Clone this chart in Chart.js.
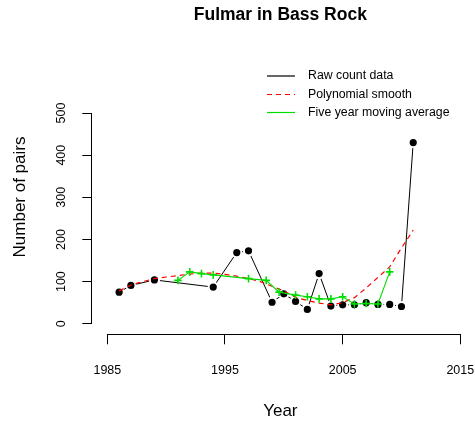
<!DOCTYPE html>
<html>
<head>
<meta charset="utf-8">
<script src="https://cdn.jsdelivr.net/npm/chart.js@4/dist/chart.umd.min.js"></script>
<style>
  body { margin: 0; background: #fff; }
</style>
</head>
<body>
<canvas id="chart" width="475" height="425"></canvas>
<script>
// raw counts (black points)
const rawYears = [1986, 1987, 1989, 1994, 1996, 1997, 1999, 2000, 2001, 2002, 2003, 2004, 2005, 2006, 2007, 2008, 2009, 2010, 2011];
const rawCounts = [75, 91, 104, 87, 169, 173, 51, 71, 53, 34, 119, 42, 45, 45, 50, 46, 46, 41, 430];

// polynomial smooth (red dashed)
const polyYears = [1986, 1987, 1988, 1989, 1990, 1991, 1992, 1993, 1994, 1995, 1996, 1997, 1998, 1999, 2000, 2001, 2002, 2003, 2004, 2005, 2006, 2007, 2008, 2009, 2010, 2011];
const polyValues = [78, 92, 100, 107, 111, 114, 118, 120, 120, 117, 113, 107, 100, 89, 78, 63, 55, 49, 45, 50, 62, 85, 110, 135, 180, 222];

// five year moving average (green)
const maYears = [1991, 1992, 1993, 1994, 1997, 1998.5, 1999.6, 2001, 2002, 2003, 2004, 2005, 2006, 2007, 2008, 2009];
const maValues = [103, 123, 119, 116, 107, 103, 75, 68, 64, 59, 59, 64, 47, 48, 47, 123];

const xTicks = [1985, 1995, 2005, 2015];
const yTicks = [0, 100, 200, 300, 400, 500];

const toPoints = (xs, ys) => xs.map((x, i) => ({ x: x, y: ys[i] }));

Chart.defaults.font.family = "'Liberation Sans', Arial, sans-serif";
Chart.defaults.color = "#000";

// R style extras: detached axis lines, y label, legend
const rExtras = {
  id: "rExtras",
  afterDraw(chart) {
    const { ctx, chartArea } = chart;
    const xs = chart.scales.x;
    const ys = chart.scales.y;
    ctx.save();
    ctx.strokeStyle = "#000";
    ctx.lineWidth = 1;

    const yb = Math.round(chartArea.bottom) + 0.5;
    ctx.beginPath();
    ctx.moveTo(xs.getPixelForValue(xTicks[0]), yb);
    ctx.lineTo(xs.getPixelForValue(xTicks[xTicks.length - 1]), yb);
    ctx.stroke();

    const xl = Math.round(chartArea.left) - 0.5;
    ctx.beginPath();
    ctx.moveTo(xl, ys.getPixelForValue(yTicks[0]));
    ctx.lineTo(xl, ys.getPixelForValue(yTicks[yTicks.length - 1]));
    ctx.stroke();

    // y axis title
    ctx.save();
    ctx.translate(20, 197);
    ctx.rotate(-Math.PI / 2);
    ctx.font = "17px 'Liberation Sans', Arial, sans-serif";
    ctx.fillStyle = "#000";
    ctx.textAlign = "center";
    ctx.textBaseline = "middle";
    ctx.fillText("Number of pairs", 0, 0);
    ctx.restore();

    // legend
    ctx.font = "12.3px 'Liberation Sans', Arial, sans-serif";
    ctx.textAlign = "left";
    ctx.textBaseline = "middle";
    const rows = [76, 94.5, 112.5];
    chart.data.datasets.forEach((ds, i) => {
      const y = rows[i];
      ctx.strokeStyle = ds.borderColor;
      ctx.lineWidth = 1.2;
      ctx.setLineDash(ds.borderDash || []);
      ctx.beginPath();
      ctx.moveTo(267, y);
      ctx.lineTo(295, y);
      ctx.stroke();
      ctx.setLineDash([]);
      ctx.fillStyle = "#000";
      ctx.fillText(ds.label, 308, y);
    });
    ctx.restore();
  },
};

new Chart(document.getElementById("chart"), {
  type: "line",
  data: {
    datasets: [
      {
        label: "Raw count data",
        data: toPoints(rawYears, rawCounts),
        borderColor: "#000",
        borderWidth: 1,
        pointRadius: 4.6,
        pointBackgroundColor: "#000",
        pointBorderColor: "#fff",
        pointBorderWidth: 2,
        order: 3,
      },
      {
        label: "Polynomial smooth",
        data: toPoints(polyYears, polyValues),
        borderColor: "#ff0000",
        borderWidth: 1.2,
        borderDash: [5, 4],
        pointRadius: 0,
        order: 2,
      },
      {
        label: "Five year moving average",
        data: toPoints(maYears, maValues),
        borderColor: "#00dd00",
        borderWidth: 1.1,
        pointStyle: "cross",
        pointRadius: 3.8,
        pointBorderWidth: 1.6,
        pointBorderColor: "#00dd00",
        order: 1,
      },
    ],
  },
  options: {
    responsive: false,
    animation: false,
    layout: { padding: { top: 0, left: 0, right: 1.4, bottom: 0 } },
    plugins: {
      legend: { display: false },
      tooltip: { enabled: false },
      title: {
        display: true,
        text: "Fulmar in Bass Rock",
        fullSize: false,
        color: "#000",
        font: { size: 17.5, weight: "bold" },
        padding: { top: 4.5, bottom: 77 },
      },
    },
    scales: {
      x: {
        type: "linear",
        min: 1983.72,
        max: 2015.69,
        afterBuildTicks: (scale) => {
          scale.ticks = xTicks.map((v) => ({ value: v }));
        },
        afterFit: (scale) => {
          scale.height = 90.7;
          scale.paddingLeft = 0;
          scale.paddingRight = 0;
        },
        border: { display: false },
        grid: { drawOnChartArea: false, drawTicks: true, tickLength: 10, tickColor: "#000" },
        ticks: { padding: 19, font: { size: 12.5 }, callback: (v) => String(v) },
        title: { display: true, text: "Year", font: { size: 17 }, padding: { top: 0, bottom: 3.4 } },
      },
      y: {
        type: "linear",
        min: -25,
        max: 525,
        afterBuildTicks: (scale) => {
          scale.ticks = yTicks.map((v) => ({ value: v }));
        },
        afterFit: (scale) => {
          scale.width = 92.3;
          scale.paddingTop = 0;
          scale.paddingBottom = 0;
        },
        border: { display: false },
        grid: { drawOnChartArea: false, drawTicks: true, tickLength: 10, tickColor: "#000" },
        ticks: { padding: 10, minRotation: 90, maxRotation: 90, crossAlign: "center", font: { size: 12.5 } },
      },
    },
  },
  plugins: [rExtras],
});
</script>
</body>
</html>
